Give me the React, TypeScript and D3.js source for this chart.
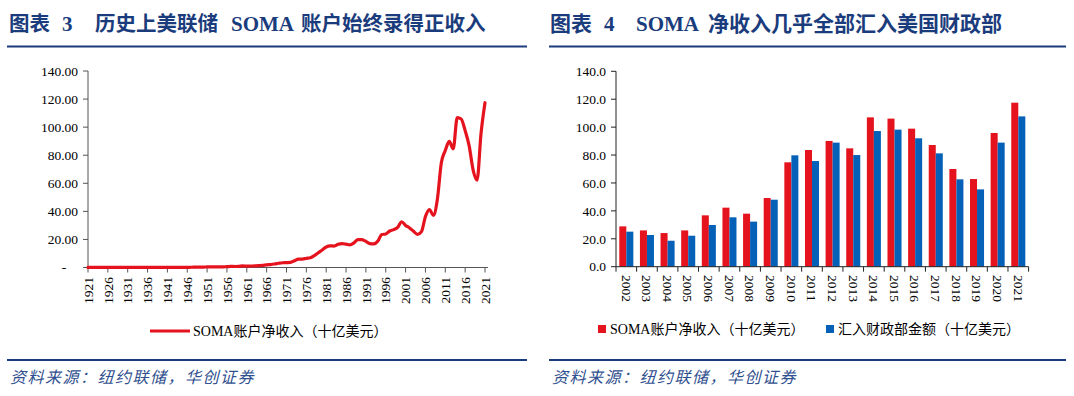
import React from 'react';
import * as d3 from 'd3';

// ---------- Data ----------
const lineStartYear = 1921;
const lineEndYear = 2021;
// SOMA net income, billions USD, 1921..2021
const somaLineValues = [
  0.12, 0.05, 0.05, 0.04, 0.04, 0.05, 0.04, 0.06, 0.07, 0.04,
  0.03, 0.05, 0.05, 0.05, 0.04, 0.04, 0.04, 0.04, 0.04, 0.04,
  0.04, 0.05, 0.07, 0.1, 0.14, 0.15, 0.16, 0.24, 0.32, 0.28,
  0.39, 0.46, 0.51, 0.44, 0.41, 0.6, 0.76, 0.73, 0.82, 1.1,
  0.94, 1.05, 1.15, 1.34, 1.56, 1.9, 2.1, 2.5, 3.0, 3.4,
  3.5, 3.6, 4.8, 6.0, 6.0, 6.5, 6.9, 8.5, 10.5, 12.5,
  14.6, 15.4, 15.3, 16.5, 17.0, 16.6, 16.1, 17.6, 19.9, 19.8,
  18.6, 17.0, 16.8, 18.8, 23.5, 23.9, 26.0, 27.0, 28.6, 32.6,
  30.0, 28.2, 25.8, 23.6, 25.6, 36.3, 41.3, 37.2, 48.6, 74.6,
  83.4, 89.8, 84.6, 106.8, 105.8, 97.5, 86.8, 69.6, 62.3, 95.5,
  117.4,
];
const lineTickLabels = [
  '1921', '1926', '1931', '1936', '1941', '1946', '1951', '1956', '1961', '1966', '1971',
  '1976', '1981', '1986', '1991', '1996', '2001', '2006', '2011', '2016', '2021',
];
const lineYTicks = [0, 20, 40, 60, 80, 100, 120, 140];

const barYears = [
  '2002', '2003', '2004', '2005', '2006', '2007', '2008', '2009', '2010', '2011',
  '2012', '2013', '2014', '2015', '2016', '2017', '2018', '2019', '2020', '2021',
];
const somaNetIncome = [
  28.9, 26.0, 24.1, 26.0, 36.8, 42.3, 38.0, 49.2, 74.8, 83.6,
  90.1, 84.8, 107.0, 106.1, 98.9, 87.2, 70.0, 62.8, 95.8, 117.5,
];
const treasuryRemit = [
  25.1, 22.7, 18.6, 22.2, 29.9, 35.4, 32.3, 48.0, 79.8, 75.7,
  88.9, 80.0, 97.2, 98.2, 92.0, 81.2, 62.6, 55.4, 88.9, 107.7,
];
const barYTicks = [0, 20, 40, 60, 80, 100, 120, 140];
const seriesKeys = ['soma', 'remit'];
const seriesNames = ['SOMA账户净收入（十亿美元）', '汇入财政部金额（十亿美元）'];

// ---------- Style ----------
const RED = '#E5131D';
const BLUE = '#0561B8';
const NAVY = '#1B3C7C';
const FOOT = '#2F4F8E';
const AXIS = '#555555';
const SERIF = "'Liberation Serif', 'Noto Sans CJK SC', serif";
const CJK = "'Noto Sans CJK SC', 'Liberation Serif', sans-serif";

export default function App() {
  // Left chart scales
  const xL = d3.scaleLinear().domain([lineStartYear, lineEndYear]).range([88, 485]);
  const yL = d3.scaleLinear().domain([0, 140]).range([267.5, 71]);
  const linePath = d3
    .line<number>()
    .x((_, i) => xL(lineStartYear + i))
    .y((d) => yL(d))
    .curve(d3.curveMonotoneX)(somaLineValues) as string;

  // Right chart scales
  const xB = d3.scaleBand<string>().domain(barYears).range([616, 1028.6]).paddingInner(0).paddingOuter(0);
  const xS = d3.scaleBand<string>().domain(seriesKeys).range([0, xB.bandwidth()]).paddingInner(0).paddingOuter(0.47);
  const yB = d3.scaleLinear().domain([0, 140]).range([266.7, 71.3]);

  const fmt2 = d3.format('.2f');
  const fmt1 = d3.format('.1f');

  return (
    <svg
      width={1074}
      height={396}
      viewBox="0 0 1074 396"
      style={{ position: 'fixed', left: 0, top: 0, background: '#fff' }}
    >
      <rect x={0} y={0} width={1074} height={396} fill="#fff" />

      {/* Titles */}
      <text y={31} fill={NAVY} fontWeight="bold" fontSize={20.5}>
        <tspan x={9} fontFamily={CJK}>图表</tspan>
        <tspan x={62} fontFamily={SERIF} fontSize={21}>3</tspan>
        <tspan x={95} fontFamily={CJK}>历史上美联储</tspan>
        <tspan x={231} fontFamily={SERIF} fontSize={21}>SOMA</tspan>
        <tspan x={301} fontFamily={CJK}>账户始终录得正收入</tspan>
      </text>
      <text y={31} fill={NAVY} fontWeight="bold" fontSize={21}>
        <tspan x={550} fontFamily={CJK}>图表</tspan>
        <tspan x={604} fontFamily={SERIF} fontSize={21}>4</tspan>
        <tspan x={636} fontFamily={SERIF} fontSize={21}>SOMA</tspan>
        <tspan x={708} fontFamily={CJK}>净收入几乎全部汇入美国财政部</tspan>
      </text>
      <line x1={7} x2={527} y1={46.5} y2={46.5} stroke={NAVY} strokeWidth={2.2} />
      <line x1={549} x2={1066} y1={46.5} y2={46.5} stroke={NAVY} strokeWidth={2.2} />

      {/* ---------- Left chart ---------- */}
      <g fontFamily={SERIF} fontSize={13.5} fill="#000">
        {lineYTicks.map((t) => (
          <g key={'ly' + t}>
            <line x1={83} x2={88} y1={yL(t)} y2={yL(t)} stroke={AXIS} strokeWidth={1} />
            {t === 0 ? (
              <text x={64} y={yL(t)} dy="0.35em" textAnchor="middle">-</text>
            ) : (
              <text x={78} y={yL(t)} dy="0.35em" textAnchor="end">{fmt2(t)}</text>
            )}
          </g>
        ))}
        <line x1={88} x2={88} y1={yL(140)} y2={yL(0)} stroke={AXIS} strokeWidth={1} />
        <line x1={88} x2={488} y1={yL(0)} y2={yL(0)} stroke={AXIS} strokeWidth={1} />
        {lineTickLabels.map((lab) => {
          const x = xL(+lab);
          return (
            <g key={'lx' + lab}>
              <line x1={x} x2={x} y1={yL(0)} y2={yL(0) + 5} stroke={AXIS} strokeWidth={1} />
              <text transform={`translate(${x},277) rotate(-90)`} dy="0.35em" textAnchor="end">{lab}</text>
            </g>
          );
        })}
        <path d={linePath} fill="none" stroke={RED} strokeWidth={3.2} strokeLinejoin="round" strokeLinecap="round" />
        {/* legend */}
        <line x1={150} x2={190} y1={331} y2={331} stroke={RED} strokeWidth={3.2} />
        <text x={193} y={331} dy="0.35em" fontSize={14}>{seriesNames[0]}</text>
      </g>

      {/* ---------- Right chart ---------- */}
      <g fontFamily={SERIF} fontSize={13.5} fill="#000">
        {barYTicks.map((t) => (
          <g key={'by' + t}>
            <line x1={611} x2={616} y1={yB(t)} y2={yB(t)} stroke="#222" strokeWidth={1} />
            <text x={606} y={yB(t)} dy="0.35em" textAnchor="end">{fmt1(t)}</text>
          </g>
        ))}
        {barYears.map((yr, i) => (
          <g key={'bar' + yr}>
            <rect
              x={(xB(yr) as number) + (xS('soma') as number)}
              y={yB(somaNetIncome[i])}
              width={xS.bandwidth()}
              height={yB(0) - yB(somaNetIncome[i])}
              fill={RED}
            />
            <rect
              x={(xB(yr) as number) + (xS('remit') as number)}
              y={yB(treasuryRemit[i])}
              width={xS.bandwidth()}
              height={yB(0) - yB(treasuryRemit[i])}
              fill={BLUE}
            />
          </g>
        ))}
        <line x1={616} x2={616} y1={yB(140)} y2={yB(0)} stroke="#222" strokeWidth={1} />
        <line x1={616} x2={1028.6} y1={yB(0)} y2={yB(0)} stroke="#222" strokeWidth={1} />
        {barYears.map((yr) => {
          const x0 = xB(yr) as number;
          const xc = x0 + xB.bandwidth() / 2;
          return (
            <g key={'bx' + yr}>
              <line x1={x0} x2={x0} y1={yB(0)} y2={yB(0) + 5} stroke="#222" strokeWidth={1} />
              <text transform={`translate(${xc},275) rotate(90)`} dy="0.35em" textAnchor="start">{yr}</text>
            </g>
          );
        })}
        <line x1={1028.6} x2={1028.6} y1={yB(0)} y2={yB(0) + 5} stroke="#222" strokeWidth={1} />
        {/* legend */}
        <rect x={598} y={325} width={8} height={8} fill={RED} />
        <text x={610} y={329} dy="0.35em" fontSize={14}>{seriesNames[0]}</text>
        <rect x={826} y={325} width={8} height={8} fill={BLUE} />
        <text x={838} y={329} dy="0.35em" fontSize={14}>{seriesNames[1]}</text>
      </g>

      {/* Footers */}
      <line x1={7} x2={527} y1={360} y2={360} stroke={NAVY} strokeWidth={2} />
      <line x1={549} x2={1066} y1={360} y2={360} stroke={NAVY} strokeWidth={2} />
      <text x={10} y={383} fill={FOOT} fontFamily={CJK} fontSize={16} fontStyle="italic" letterSpacing={1.5}>
        资料来源：纽约联储，华创证券
      </text>
      <text x={552} y={383} fill={FOOT} fontFamily={CJK} fontSize={16} fontStyle="italic" letterSpacing={1.5}>
        资料来源：纽约联储，华创证券
      </text>
    </svg>
  );
}
